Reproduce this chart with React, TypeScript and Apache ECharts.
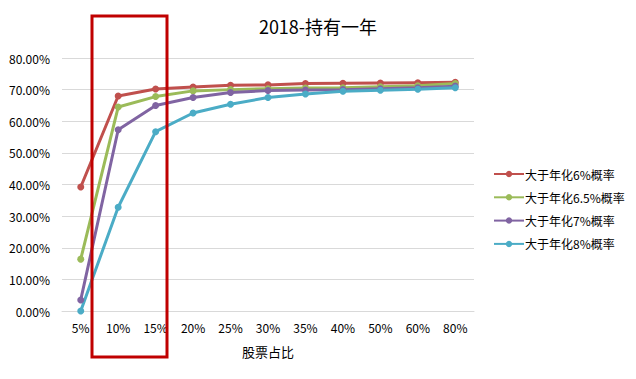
import React, { useEffect, useRef } from "react";
import * as echarts from "echarts";

const categories = ["5%", "10%", "15%", "20%", "25%", "30%", "35%", "40%", "50%", "60%", "80%"];
const seriesNames = ["大于年化6%概率", "大于年化6.5%概率", "大于年化7%概率", "大于年化8%概率"];
const rate6 = [39.2, 68.0, 70.2, 70.8, 71.4, 71.5, 71.9, 72.0, 72.1, 72.2, 72.3];
const rate65 = [16.4, 64.5, 67.8, 69.6, 70.0, 70.3, 70.5, 70.6, 70.9, 71.2, 71.9];
const rate7 = [3.5, 57.3, 65.0, 67.5, 69.1, 69.7, 69.9, 70.0, 70.3, 70.6, 71.1];
const rate8 = [0.0, 32.8, 56.7, 62.6, 65.4, 67.5, 68.6, 69.5, 69.8, 70.1, 70.6];
const colors = ["#c0504d", "#9bbb59", "#8064a2", "#4bacc6"];

export default function App() {
  const ref = useRef<HTMLDivElement>(null);
  useEffect(() => {
    document.body.style.margin = "0";
    const chart = echarts.init(ref.current!, undefined, { renderer: "svg" });
    const data = [rate6, rate65, rate7, rate8];
    const font = "'Noto Sans CJK SC', 'Noto Sans', sans-serif";
    chart.setOption({
      animation: false,
      color: colors,
      textStyle: { fontFamily: font },
      title: {
        text: "2018-持有一年",
        left: "center",
        top: 12,
        textStyle: { fontSize: 18, fontWeight: "normal", color: "#000", fontFamily: font },
      },
      legend: {
        orient: "vertical",
        left: 493,
        top: 168,
        padding: 0,
        itemWidth: 30,
        itemHeight: 8,
        itemGap: 11.3,
        textStyle: { fontSize: 12, color: "#000", fontFamily: font, padding: [0, 0, 0, -4] },
        data: seriesNames,
      },
      grid: { left: 62, right: 162, top: 58, bottom: 68 },
      xAxis: {
        type: "category",
        data: categories,
        boundaryGap: true,
        name: "股票占比",
        nameLocation: "middle",
        nameGap: 34,
        nameTextStyle: { fontSize: 13, color: "#000", fontFamily: font },
        axisLine: { show: true, lineStyle: { color: "#d9d9d9" } },
        axisTick: { show: false },
        axisLabel: { fontSize: 12, color: "#000", margin: 10, fontFamily: font },
      },
      yAxis: {
        type: "value",
        min: 0,
        max: 80,
        interval: 10,
        axisLine: { show: false },
        axisTick: { show: false },
        splitLine: { lineStyle: { color: "#d9d9d9" } },
        axisLabel: {
          fontSize: 12,
          color: "#000",
          margin: 12,
          fontFamily: font,
          formatter: (v: number) => v.toFixed(2) + "%",
        },
      },
      series: seriesNames.map((name, i) => ({
        name,
        type: "line",
        data: data[i],
        symbol: "circle",
        symbolSize: 7,
        lineStyle: { width: 3 },
      })),
      graphic: [
        {
          type: "rect",
          shape: { x: 92, y: 16, width: 75, height: 341 },
          style: { fill: "none", stroke: "#c00000", lineWidth: 3 },
          z: 100,
        },
      ],
    });
    return () => chart.dispose();
  }, []);
  return <div ref={ref} style={{ width: 636, height: 379 }} />;
}
